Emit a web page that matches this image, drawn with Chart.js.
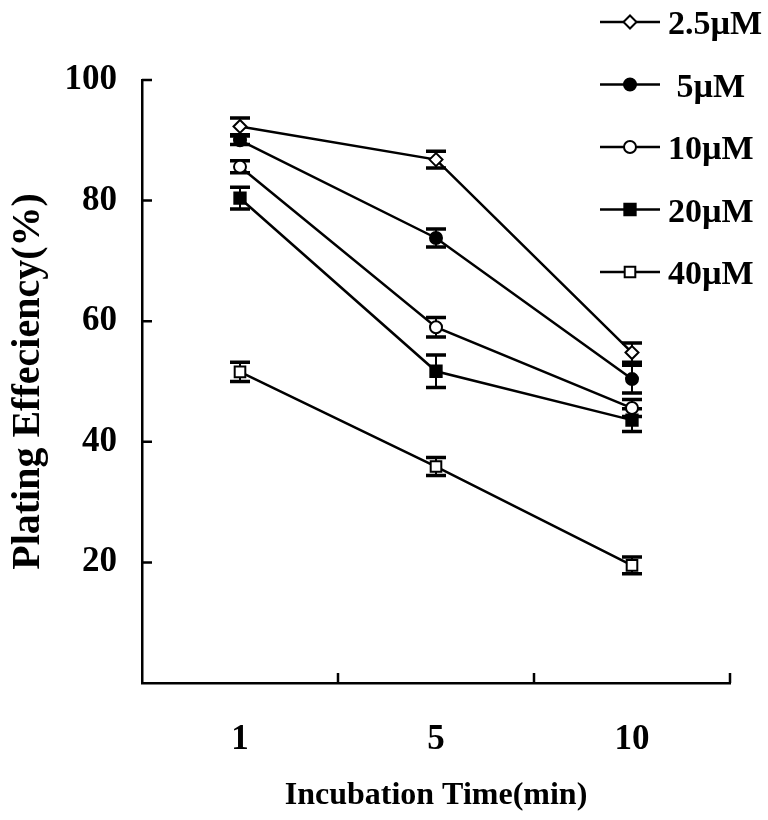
<!DOCTYPE html>
<html><head><meta charset="utf-8">
<script src="https://cdn.jsdelivr.net/npm/chart.js@4.4.0/dist/chart.umd.min.js"></script>
<style>html,body{margin:0;padding:0;background:#fff}#wrap{width:768px;height:820px;position:relative}canvas{display:block}</style>
</head><body><div id="wrap"><canvas id="c" width="768" height="820"></canvas></div>
<script>
// ---- data ----
const categories = ['1', '5', '10'];
const seriesNames = ['2.5µM', ' 5µM', '10µM', '20µM', '40µM'];
const pe_2_5uM = [92.3, 86.8, 54.8];
const pe_5uM   = [90.0, 73.8, 50.4];
const pe_10uM  = [85.6, 59.0, 45.6];
const pe_20uM  = [80.4, 51.7, 43.6];
const pe_40uM  = [51.6, 35.9, 19.5];
const err_2_5uM = [1.4, 1.4, 1.6];
const err_5uM   = [0.7, 1.5, 2.3];
const err_10uM  = [1.0, 1.6, 1.4];
const err_20uM  = [1.8, 2.7, 1.9];
const err_40uM  = [1.6, 1.5, 1.4];
const yTicks = [20, 40, 60, 80, 100];

const FONT = "'Liberation Serif', 'Times New Roman', Times, serif";
const values = [pe_2_5uM, pe_5uM, pe_10uM, pe_20uM, pe_40uM];
const errors = [err_2_5uM, err_5uM, err_10uM, err_20uM, err_40uM];
const markers = [
  {style: 'rectRot', radius: 6.5, fill: '#fff'},
  {style: 'circle', radius: 6, fill: '#000'},
  {style: 'circle', radius: 6, fill: '#fff'},
  {style: 'rect', radius: 8, fill: '#000'},
  {style: 'rect', radius: 7.5, fill: '#fff'}
];

const datasets = seriesNames.map((name, i) => ({
  label: name.trim(),
  data: values[i],
  errors: errors[i],
  borderColor: '#000',
  borderWidth: 2.5,
  tension: 0,
  fill: false,
  pointStyle: markers[i].style,
  pointRadius: markers[i].radius,
  pointHoverRadius: markers[i].radius,
  pointBackgroundColor: markers[i].fill,
  pointBorderColor: '#000',
  pointBorderWidth: 2
}));

const errorBars = {
  id: 'errorBars',
  beforeDatasetsDraw(chart) {
    const ctx = chart.ctx, y = chart.scales.y;
    ctx.save();
    ctx.strokeStyle = '#000';
    chart.data.datasets.forEach((ds, di) => {
      const meta = chart.getDatasetMeta(di);
      meta.data.forEach((pt, j) => {
        const v = ds.data[j], e = ds.errors[j];
        const yt = y.getPixelForValue(v + e), yb = y.getPixelForValue(v - e);
        ctx.lineWidth = 2;
        ctx.beginPath(); ctx.moveTo(pt.x, yt); ctx.lineTo(pt.x, yb); ctx.stroke();
        ctx.lineWidth = 3.5;
        ctx.beginPath();
        ctx.moveTo(pt.x - 10, yt); ctx.lineTo(pt.x + 10, yt);
        ctx.moveTo(pt.x - 10, yb); ctx.lineTo(pt.x + 10, yb);
        ctx.stroke();
      });
    });
    ctx.restore();
  }
};

const innerTicks = {
  id: 'innerTicks',
  afterDraw(chart) {
    const ctx = chart.ctx, x = chart.scales.x, y = chart.scales.y;
    ctx.save();
    ctx.strokeStyle = '#000';
    ctx.lineWidth = 2.5;
    ctx.beginPath();
    y.ticks.forEach(t => {
      if (t.value === 0) return;
      const py = y.getPixelForValue(t.value);
      ctx.moveTo(y.right, py); ctx.lineTo(y.right + 10, py);
    });
    const n = categories.length;
    for (let i = 1; i <= n; i++) {
      const px = x.getPixelForValue(i - 1) + (x.getPixelForValue(1) - x.getPixelForValue(0)) / 2;
      ctx.moveTo(px, x.top); ctx.lineTo(px, x.top - 10);
    }
    ctx.stroke();
    ctx.restore();
  }
};

const customLegend = {
  id: 'customLegend',
  afterDraw(chart) {
    const ctx = chart.ctx;
    const x0 = 600, x1 = 660, xm = 630, tx = 668, y0 = 22, dy = 62.5;
    ctx.save();
    chart.data.datasets.forEach((ds, i) => {
      const yy = y0 + i * dy;
      ctx.strokeStyle = '#000';
      ctx.lineWidth = 2.5;
      ctx.beginPath(); ctx.moveTo(x0, yy); ctx.lineTo(x1, yy); ctx.stroke();
      ctx.fillStyle = ds.pointBackgroundColor;
      ctx.strokeStyle = '#000';
      ctx.lineWidth = ds.pointBorderWidth;
      Chart.helpers.drawPoint(ctx, {pointStyle: ds.pointStyle, radius: ds.pointRadius, borderWidth: ds.pointBorderWidth, rotation: 0}, xm, yy);
      ctx.fillStyle = '#000';
      ctx.font = 'bold 34px ' + FONT;
      ctx.textAlign = 'left';
      ctx.textBaseline = 'alphabetic';
      ctx.fillText(seriesNames[i], tx, yy + 12);
    });
    ctx.restore();
  }
};

new Chart(document.getElementById('c'), {
  type: 'line',
  data: { labels: categories, datasets },
  plugins: [errorBars, innerTicks, customLegend],
  options: {
    responsive: false,
    devicePixelRatio: 1,
    animation: false,
    layout: { padding: { top: 80, right: 38, left: 0, bottom: 0 } },
    plugins: { legend: { display: false }, tooltip: { enabled: false } },
    scales: {
      x: {
        type: 'category',
        offset: true,
        afterFit(s) { s.height = 137; },
        grid: { display: false, drawTicks: false, offset: true },
        border: { display: true, color: '#000', width: 2.5 },
        ticks: { color: '#000', padding: 36, font: { family: FONT, weight: 'bold', size: 35 } },
        title: { display: true, text: 'Incubation Time(min)', color: '#000',
                 font: { family: FONT, weight: 'bold', size: 32 }, padding: { top: 0, bottom: 5 } }
      },
      y: {
        min: 0, max: 100,
        afterFit(s) { s.width = 142; },
        afterBuildTicks(s) { s.ticks = [0].concat(yTicks).map(v => ({ value: v })); },
        grid: { display: false, drawTicks: false },
        border: { display: true, color: '#000', width: 2.5 },
        ticks: { color: '#000', padding: 25, font: { family: FONT, weight: 'bold', size: 35 },
                 callback: v => (v === 0 ? '' : v) },
        title: { display: true, text: 'Plating Effeciency(%)', color: '#000',
                 font: { family: FONT, weight: 'bold', size: 40 }, padding: { top: 5, bottom: 0 } }
      }
    }
  }
});
</script>
</body></html>
